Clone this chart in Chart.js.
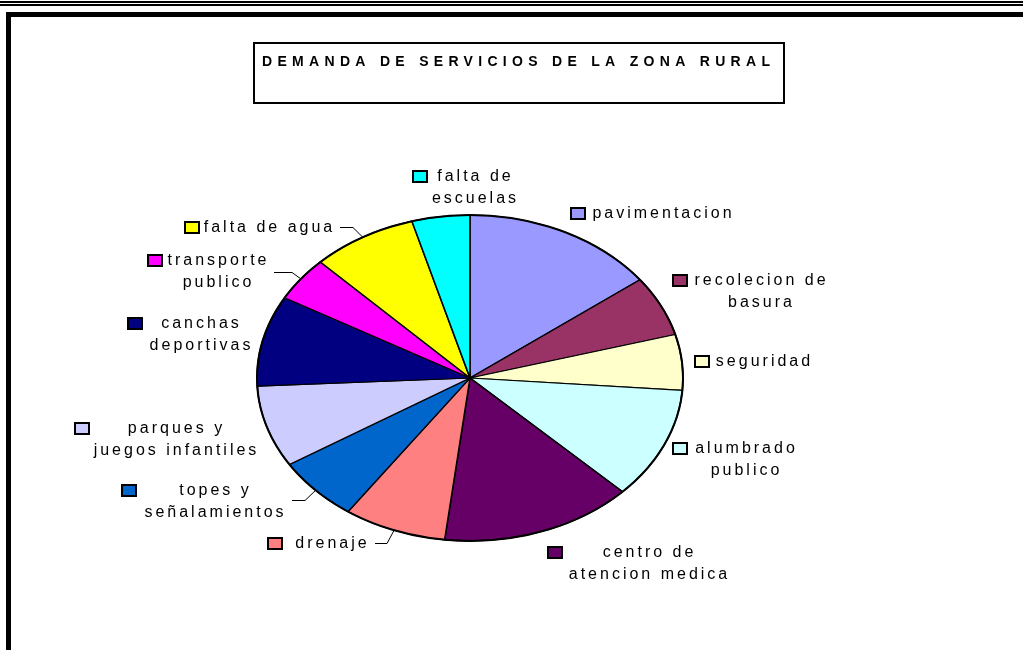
<!DOCTYPE html>
<html lang="es">
<head>
<meta charset="utf-8">
<title>Demanda de servicios de la zona rural</title>
<script src="https://cdn.jsdelivr.net/npm/chart.js@4/dist/chart.umd.min.js"></script>
<style>
  html, body { margin: 0; padding: 0; background: #fff; }
  #wrap { position: relative; width: 1023px; height: 650px; overflow: hidden; }
  canvas { display: block; }
</style>
</head>
<body>
<div id="wrap"><canvas id="pie" width="1023" height="650"></canvas></div>
<script>
const titleText = "DEMANDA DE SERVICIOS DE LA ZONA RURAL";

// sectores en el orden en que se dibujan (desde las 12, sentido horario)
const categories = [
  "pavimentacion",
  "recolecion de basura",
  "seguridad",
  "alumbrado publico",
  "centro de atencion medica",
  "drenaje",
  "topes y señalamientos",
  "parques y juegos infantiles",
  "canchas deportivas",
  "transporte publico",
  "falta de agua",
  "falta de escuelas",
];
const values = [14.7, 6.0, 5.5, 11.1, 14.6, 7.8, 6.4, 8.1, 9.0, 4.4, 8.0, 4.4];

const sliceColors = [
  "#9999FF", "#993366", "#FFFFCC", "#CCFFFF", "#660066", "#FF8080",
  "#0066CC", "#CCCCFF", "#000080", "#FF00FF", "#FFFF00", "#00FFFF",
];

// posición de cada etiqueta: kx = cuadro de color, cx = centro del texto,
// y = línea base de la primera línea, brk = palabras en la primera línea
const labelLayout = [
  { kx: 571, cx: 662, y: 218, brk: 0 },
  { kx: 673, cx: 760, y: 285, brk: 2 },
  { kx: 695, cx: 763, y: 366, brk: 0 },
  { kx: 673, cx: 745, y: 453, brk: 1 },
  { kx: 548, cx: 648, y: 557, brk: 2 },
  { kx: 268, cx: 331, y: 548, brk: 0, leader: [375, 387], ly: 543 },
  { kx: 122, cx: 214, y: 495, brk: 2, leader: [292, 305], ly: 500 },
  { kx: 75, cx: 175, y: 433, brk: 2 },
  { kx: 128, cx: 200, y: 328, brk: 1 },
  { kx: 148, cx: 217, y: 265, brk: 1, leader: [274, 292], ly: 272 },
  { kx: 185, cx: 268, y: 232, brk: 0, leader: [340, 353], ly: 227 },
  { kx: 413, cx: 474, y: 181, brk: 2 },
];

const RX = 213; // semieje horizontal del pastel (elipse tipo Excel)
const RY = 163; // semieje vertical
const LINE_GAP = 22;
const LABEL_SPACING = 3;
const TITLE_SPACING = 5.3;

function splitLabel(text, brk) {
  if (!brk) return [text];
  const words = text.split(" ");
  return [words.slice(0, brk).join(" "), words.slice(brk).join(" ")];
}

// marco de la hoja y recuadro del título
const framePlugin = {
  id: "frame",
  beforeDraw(chart) {
    const ctx = chart.ctx;
    ctx.save();
    ctx.fillStyle = "#fff";
    ctx.fillRect(0, 0, chart.width, chart.height);
    ctx.fillStyle = "#000";
    ctx.fillRect(0, 1, chart.width, 2);
    ctx.fillRect(0, 4, chart.width, 2);
    ctx.lineWidth = 5;
    ctx.strokeStyle = "#000";
    ctx.strokeRect(8.5, 14.5, 1200, 800);
    ctx.lineWidth = 2;
    ctx.strokeRect(254, 43, 530, 60);
    ctx.font = "bold 14px 'Liberation Sans', Arial, sans-serif";
    ctx.letterSpacing = TITLE_SPACING + "px";
    ctx.textBaseline = "alphabetic";
    ctx.textAlign = "left";
    const w = ctx.measureText(titleText).width - TITLE_SPACING;
    ctx.fillText(titleText, 516 - w / 2, 66);
    ctx.restore();
  },
};

// estira el pastel circular a elipse
const ellipsePlugin = {
  id: "ellipse",
  beforeDatasetsDraw(chart) {
    const arc = chart.getDatasetMeta(0).data[0];
    const r = arc.outerRadius;
    const ctx = chart.ctx;
    ctx.save();
    ctx.translate(arc.x, arc.y);
    ctx.scale(RX / r, RY / r);
    ctx.translate(-arc.x, -arc.y);
  },
  afterDatasetsDraw(chart) {
    const ctx = chart.ctx;
    ctx.restore();
    const arc = chart.getDatasetMeta(0).data[0];
    ctx.save();
    ctx.beginPath();
    ctx.ellipse(arc.x, arc.y, RX, RY, 0, 0, Math.PI * 2);
    ctx.lineWidth = 2;
    ctx.strokeStyle = "#000";
    ctx.stroke();
    ctx.restore();
  },
};

// etiquetas con cuadro de color y líneas guía
const labelPlugin = {
  id: "sliceLabels",
  afterDraw(chart) {
    const ctx = chart.ctx;
    const arcs = chart.getDatasetMeta(0).data;
    ctx.save();
    ctx.font = "16px 'Liberation Sans', Arial, sans-serif";
    ctx.letterSpacing = LABEL_SPACING + "px";
    ctx.textBaseline = "alphabetic";
    ctx.textAlign = "left";
    arcs.forEach(function (arc, i) {
      const lay = labelLayout[i];
      const lines = splitLabel(categories[i], lay.brk);

      ctx.fillStyle = sliceColors[i];
      ctx.fillRect(lay.kx, lay.y - 10, 14, 11);
      ctx.lineWidth = 2;
      ctx.strokeStyle = "#000";
      ctx.strokeRect(lay.kx, lay.y - 10, 14, 11);

      ctx.fillStyle = "#000";
      lines.forEach(function (line, j) {
        const w = ctx.measureText(line).width - LABEL_SPACING;
        ctx.fillText(line, lay.cx - w / 2, lay.y + j * LINE_GAP);
      });

      if (lay.leader) {
        const a = (arc.startAngle + arc.endAngle) / 2;
        const px = arc.x + Math.cos(a) * RX;
        const py = arc.y + Math.sin(a) * RY;
        ctx.beginPath();
        ctx.moveTo(lay.leader[0], lay.ly + 0.5);
        ctx.lineTo(lay.leader[1], lay.ly + 0.5);
        ctx.lineTo(px, py);
        ctx.lineWidth = 1;
        ctx.strokeStyle = "#000";
        ctx.stroke();
      }
    });
    ctx.restore();
  },
};

new Chart(document.getElementById("pie"), {
  type: "pie",
  data: {
    labels: categories,
    datasets: [
      {
        data: values,
        backgroundColor: sliceColors,
        borderColor: "#000",
        borderWidth: 1.2,
        clip: false,
      },
    ],
  },
  options: {
    responsive: false,
    animation: false,
    events: [],
    layout: { padding: { left: 306, right: 389, top: 214, bottom: 108 } },
    plugins: {
      legend: { display: false },
      tooltip: { enabled: false },
      title: { display: false },
    },
  },
  plugins: [framePlugin, ellipsePlugin, labelPlugin],
});
</script>
</body>
</html>
